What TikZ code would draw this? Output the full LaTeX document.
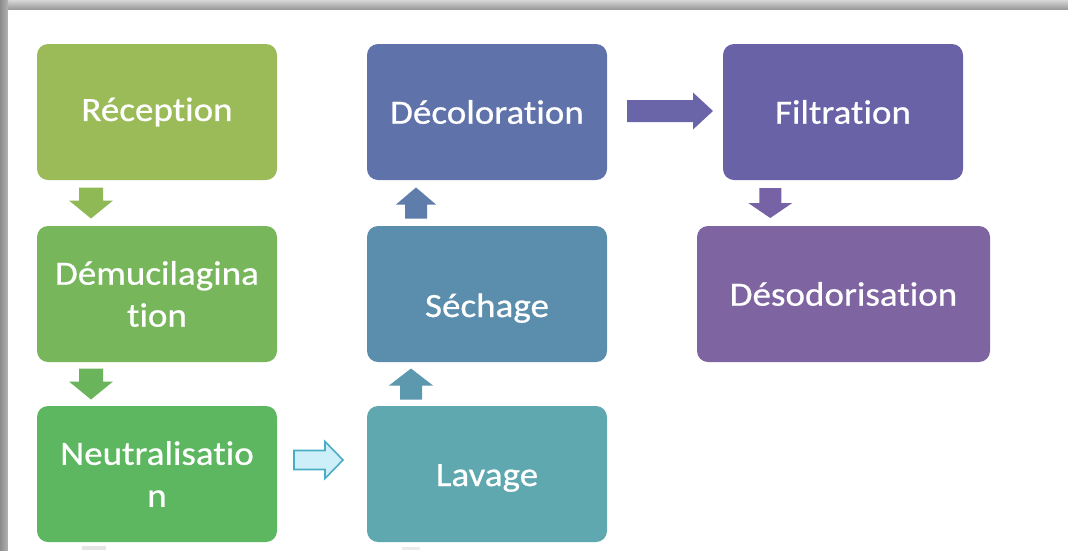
\documentclass[tikz,border=0pt]{standalone}
\usepackage{fontspec}
\setmainfont[FakeStretch=1.09, FakeBold=0.6, Ligatures=CommonOff]{Carlito}
\usetikzlibrary{calc,shadows}

\definecolor{cRec}{HTML}{9BBB59}
\definecolor{cDem}{HTML}{78B65B}
\definecolor{cNeu}{HTML}{5DB660}
\definecolor{cLav}{HTML}{5FA8AF}
\definecolor{cSec}{HTML}{5B8DAD}
\definecolor{cDec}{HTML}{5F72AA}
\definecolor{cFil}{HTML}{6A62A6}
\definecolor{cDes}{HTML}{7F64A2}
\definecolor{aRec}{HTML}{8FB955}
\definecolor{aDem}{HTML}{6AB45C}
\definecolor{aLav}{HTML}{5C98AE}
\definecolor{aSec}{HTML}{5E7DAB}
\definecolor{aDec}{HTML}{6A64A8}
\definecolor{aFil}{HTML}{7762A5}
\definecolor{skyFill}{HTML}{CDEFF9}
\definecolor{skyLine}{HTML}{4BACC6}

\tikzset{
  stepbox/.style={rectangle, rounded corners=11pt, minimum width=240pt,
    minimum height=136pt, inner sep=0pt, text=white, align=center,
    font=\fontsize{34}{42}\selectfont},
  % block arrow pointing along +x, centred on the origin:
  % total length / shaft width / head width / head length
  pics/barrow/.style args={#1/#2/#3/#4}{code={
    \path[pic actions] (-#1/2,-#2/2) -- (#1/2-#4,-#2/2) -- (#1/2-#4,-#3/2)
      -- (#1/2,0) -- (#1/2-#4,#3/2) -- (#1/2-#4,#2/2) -- (-#1/2,#2/2) -- cycle;
  }}
}

\begin{document}
\begin{tikzpicture}[x=1pt,y=-1pt]
  \useasboundingbox (0,0) rectangle (1068,550);
  % card shadow along the top and left edges
  \shade[top color=black!16, bottom color=black!42] (0,0) rectangle (1068,10);
  \shade[left color=black!45, right color=black!30] (0,0) rectangle (8,550);
  \fill[white] (8,10) rectangle (1068,550);

  % process steps
  \node[stepbox, fill=cRec] (rec) at (157,112) {Réception};
  \node[stepbox, fill=cDem] (dem) at (157,294) {Démucilagina\\tion};
  \node[stepbox, fill=cNeu] (neu) at (157,474) {Neutralisatio\\n};
  \node[stepbox, fill=cLav, text height=24pt, text depth=0pt] (lav) at (487,474) {Lavage};
  \node[stepbox, fill=cSec, text height=46pt, text depth=0pt] (sec) at (487,294) {Séchage};
  \node[stepbox, fill=cDec] (dec) at (487,112) {Décoloration};
  \node[stepbox, fill=cFil] (fil) at (843,112) {Filtration};
  \node[stepbox, fill=cDes, minimum width=293pt] (des) at (843.5,294) {Désodorisation};

  % block arrows between the steps
  \pic[fill=aRec, rotate=-90] at ($(rec.south)!0.5!(dem.north)+(-66,0)$) {barrow=31/24/44/18};
  \pic[fill=aDem, rotate=-90] at ($(dem.south)!0.5!(neu.north)+(-66,0)$) {barrow=31/24/44/18};
  \pic[fill=skyFill, draw=skyLine, line width=1.6pt, drop shadow={opacity=0.25, shadow xshift=2pt, shadow yshift=-2pt}]
    at ($(neu.east)!0.5!(lav.west)+(-3.5,-14)$) {barrow=49/19/37/18};
  \pic[fill=aLav, rotate=90] at ($(lav.north)!0.5!(sec.south)+(-76,0)$) {barrow=31/22/44/17};
  \pic[fill=aSec, rotate=90] at ($(sec.north)!0.5!(dec.south)+(-71,0)$) {barrow=31/22/40/17};
  \pic[fill=aDec] at ($(dec.east)!0.5!(fil.west)+(5,-1)$) {barrow=86/22/37/20};
  \pic[fill=aFil, rotate=-90] at ($(fil.south)!0.5!(des.north)+(-73,0)$) {barrow=30/22/44/15};

  % tops of the next arrows, cut off by the lower edge
  \fill[black!10] (82,546) rectangle (106,550);
  \fill[black!8] (402,547) rectangle (420,550);
\end{tikzpicture}
\end{document}
